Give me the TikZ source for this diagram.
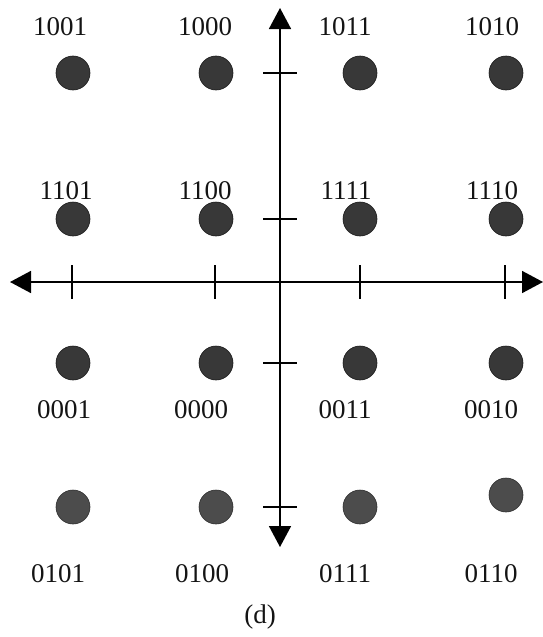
\documentclass[tikz,border=0pt]{standalone}
\usepackage{fontspec}
\setmainfont{Liberation Serif}
\usetikzlibrary{arrows.meta}
\begin{document}
\begin{tikzpicture}[x=1pt,y=-1pt,
  sym/.style={circle,fill=black!78,draw=black!90,line width=0.6pt,minimum size=34pt,inner sep=0pt},
  symlight/.style={sym,fill=black!70,draw=black!82},
  lbl/.style={font=\fontsize{27}{29}\selectfont,inner sep=0pt,text=black!92},
  axisline/.style={line width=1.7pt,{Triangle[length=21pt,width=22pt]}-{Triangle[length=21pt,width=22pt]}},
  tickline/.style={line width=1.5pt}]
\useasboundingbox (0,0) rectangle (542,637);
% axes
\coordinate (L) at (10,282);
\coordinate (R) at (543,282);
\coordinate (T) at (280,8);
\coordinate (B) at (280,547);
\draw[axisline] (L) -- (R);
\draw[axisline] (T) -- (B);
% ticks
\foreach \x in {72,215,360,505} \draw[tickline] (\x,265) -- (\x,299);
\foreach \y in {73,219,363,507} \draw[tickline] (263,\y) -- (297,\y);
% constellation points
\node[sym] (p1001) at (73,73) {};
\node[sym] (p1000) at (216,73) {};
\node[sym] (p1011) at (360,73) {};
\node[sym] (p1010) at (506,73) {};
\node[sym] (p1101) at (73,219) {};
\node[sym] (p1100) at (216,219) {};
\node[sym] (p1111) at (360,219) {};
\node[sym] (p1110) at (506,219) {};
\node[sym] (p0001) at (73,363) {};
\node[sym] (p0000) at (216,363) {};
\node[sym] (p0011) at (360,363) {};
\node[sym] (p0010) at (506,363) {};
\node[symlight] (p0101) at (73,507) {};
\node[symlight] (p0100) at (216,507) {};
\node[symlight] (p0111) at (360,507) {};
\node[symlight] (p0110) at (506,495) {};
% labels
\node[lbl] (l1001) at (60,27) {1001};
\node[lbl] (l1000) at (205,27) {1000};
\node[lbl] (l1011) at (345,27) {1011};
\node[lbl] (l1010) at (492,27) {1010};
\node[lbl] (l1101) at (66,191) {1101};
\node[lbl] (l1100) at (205,191) {1100};
\node[lbl] (l1111) at (346,191) {1111};
\node[lbl] (l1110) at (492,191) {1110};
\node[lbl] (l0001) at (64,410) {0001};
\node[lbl] (l0000) at (201,410) {0000};
\node[lbl] (l0011) at (345,410) {0011};
\node[lbl] (l0010) at (491,410) {0010};
\node[lbl] (l0101) at (58,574) {0101};
\node[lbl] (l0100) at (202,574) {0100};
\node[lbl] (l0111) at (345,574) {0111};
\node[lbl] (l0110) at (491,574) {0110};
\node[lbl] (cap) at (260,617) {(d)};
\end{tikzpicture}
\end{document}
